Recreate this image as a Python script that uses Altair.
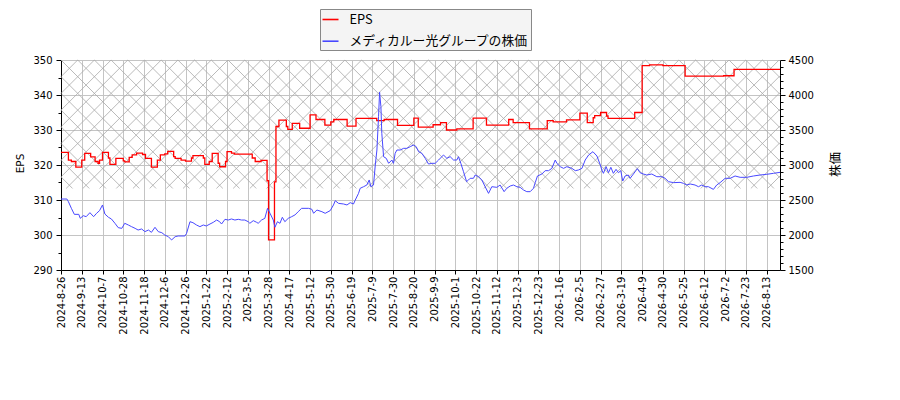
"""EPS vs. share price chart (step line for EPS, line for price, hatched band)."""

import altair as alt
import pandas as pd

# x axis: trading-day index, a label every 14 trading days
DATE_LABELS = [
    '2024-8-26', '2024-9-13', '2024-10-7', '2024-10-28', '2024-11-18', '2024-12-6',
    '2024-12-26', '2025-1-22', '2025-2-12', '2025-3-5', '2025-3-28', '2025-4-17',
    '2025-5-12', '2025-5-30', '2025-6-19', '2025-7-9', '2025-7-30', '2025-8-20',
    '2025-9-9', '2025-10-1', '2025-10-22', '2025-11-12', '2025-12-3', '2025-12-23',
    '2026-1-16', '2026-2-5', '2026-2-27', '2026-3-19', '2026-4-9', '2026-4-30',
    '2026-5-25', '2026-6-12', '2026-7-2', '2026-7-23', '2026-8-13',
]
LABEL_STEP = 14
X_MAX = 485

# EPS (step changes: index where a new value starts)
EPS_IDX = [0, 5, 7, 10, 14, 16, 20, 23, 25, 26, 28, 32, 33, 37, 42, 43, 46, 48, 51, 55,
           57, 61, 65, 67, 70, 72, 76, 77, 81, 84, 88, 89, 96, 97, 100, 102, 106, 107, 111, 112,
           115, 117, 129, 131, 135, 139, 140, 144, 145, 147, 152, 153, 156, 161, 168, 172, 178, 182, 184, 193,
           199, 213, 218, 227, 238, 241, 251, 256, 260, 267, 278, 287, 302, 305, 316, 328, 332, 341, 350, 355,
           359, 360, 364, 368, 369, 387, 392, 397, 406, 421, 447, 454, 485]
EPS_VAL = [323.6, 321.4, 321.0, 319.4, 321.4, 323.3, 322.3, 321.0, 320.5, 321.4, 323.6, 322.0, 320.2, 321.9, 321.2, 320.9, 322.2, 322.9, 323.4, 323.0,
           321.9, 319.4, 321.4, 322.9, 323.2, 323.9, 322.4, 321.9, 321.4, 321.1, 322.0, 322.7, 322.0, 320.2, 321.0, 323.3, 320.5, 319.5, 321.0, 323.8,
           323.4, 323.1, 322.0, 321.0, 321.3, 315.5, 298.6, 315.2, 331.0, 332.8, 331.0, 330.2, 331.9, 330.5, 334.3, 333.0, 331.4, 332.3, 333.0, 331.1,
           333.3, 332.7, 333.0, 331.3, 333.4, 330.8, 331.5, 332.1, 330.0, 330.3, 333.4, 331.4, 333.0, 332.1, 330.3, 332.7, 332.3, 332.9, 334.8, 332.1,
           333.5, 334.1, 335.0, 334.0, 333.3, 335.0, 348.4, 348.6, 348.4, 345.4, 345.5, 347.3, 347.3]

# share price
PRICE_IDX = [0, 4, 5, 7, 9, 12, 13, 15, 17, 19.5, 22, 24, 26, 28, 29.6, 32, 34, 36.4, 38.6, 41,
             43, 45.4, 47.6, 50, 52, 54.4, 56.6, 59, 61, 63.4, 65.6, 68, 70, 72.4, 74.6, 77, 79, 83.6, 84.7, 87,
             89, 91.4, 93.7, 96, 98, 100.5, 102.7, 105, 107, 108.3, 110.6, 112.8, 115, 117.3, 119.6, 121.8, 124, 126.3, 127.4, 129.7,
             132, 133, 135.3, 137.5, 139.3, 141, 143.2, 144.3, 146, 147.7, 149.3, 151, 153.3, 155.6, 157.8, 160, 162.3, 167, 169.2, 170.4,
             172.6, 176, 178.2, 181.6, 183.8, 185, 187.2, 190.6, 192.9, 195.1, 197.3, 198.5, 200.7, 201.8, 204.1, 206.3, 207.9, 209, 210.8, 212,
             213.1, 214.2, 214.9, 215.8, 216.4, 217.6, 219.4, 221, 223.2, 224.3, 225.4, 226.6, 228.8, 231.1, 233.3, 235.6, 237.8, 239.6, 241.2, 243.4,
             245.7, 247.9, 250.2, 252.4, 254.7, 258, 260.3, 262.5, 264.8, 267, 268.1, 269.7, 271.5, 273.6, 274.9, 276, 278.2, 279.4, 281.6, 283.9,
             286.1, 288.4, 290.6, 294, 296.2, 298.9, 300.7, 303, 305.2, 307.5, 309.7, 312, 314.2, 316.5, 318.7, 319.9, 321.4, 324.4, 326.6, 328.9,
             331.1, 333.4, 334.5, 336.8, 339, 341.2, 344.6, 346.9, 349.1, 351.4, 353.6, 355.9, 358.8, 361.5, 363.8, 364.8, 365.9, 367.7, 369.3, 370.9,
             372.6, 374.4, 376, 377.6, 378.9, 380.5, 382.7, 383.9, 386.1, 388.8, 390.6, 392.9, 395.1, 398.5, 401.9, 405.3, 407.5, 409.8, 413.2, 417.6,
             419.9, 422.1, 424.4, 427.7, 430, 432.2, 434.5, 436.7, 440.1, 442.3, 444.6, 448, 451.4, 454.7, 458.1, 462.6, 467.1, 471.6, 476.1, 480.6,
             485]
PRICE_VAL = [2514, 2514, 2476, 2381, 2295, 2295, 2238, 2276, 2262, 2319, 2262, 2310, 2348, 2429, 2300, 2253, 2229, 2167, 2105, 2095,
             2167, 2143, 2119, 2095, 2071, 2086, 2048, 2071, 2038, 2110, 2048, 2033, 2000, 1976, 1929, 1976, 1986, 1986, 2024, 2190,
             2176, 2143, 2119, 2143, 2129, 2157, 2181, 2214, 2190, 2157, 2224, 2214, 2229, 2214, 2224, 2214, 2214, 2190, 2167, 2205,
             2181, 2167, 2214, 2238, 2381, 2310, 2214, 2110, 2190, 2167, 2253, 2190, 2238, 2262, 2286, 2333, 2381, 2381, 2367, 2310,
             2357, 2333, 2310, 2348, 2429, 2490, 2452, 2443, 2429, 2462, 2443, 2500, 2595, 2667, 2690, 2714, 2786, 2690, 2714, 3000,
             3214, 3690, 4040, 3833, 3452, 3119, 3095, 3024, 3071, 3024, 3167, 3214, 3214, 3238, 3238, 3262, 3286, 3262, 3190, 3167,
             3095, 3014, 3024, 3024, 3071, 3143, 3095, 3119, 3071, 3071, 3119, 3024, 2905, 2762, 2786, 2810, 2810, 2857, 2833, 2786,
             2690, 2595, 2690, 2681, 2714, 2619, 2667, 2700, 2714, 2690, 2681, 2643, 2619, 2619, 2667, 2748, 2843, 2871, 2919, 2919,
             2952, 3071, 3024, 2976, 2952, 2976, 2952, 2919, 2929, 2952, 3071, 3143, 3190, 3129, 3000, 2929, 2881, 2976, 2890, 2967,
             2881, 2938, 2890, 2919, 2771, 2843, 2857, 2810, 2871, 2948, 2890, 2871, 2857, 2871, 2833, 2833, 2810, 2762, 2748, 2752,
             2738, 2714, 2729, 2714, 2690, 2714, 2690, 2690, 2652, 2714, 2748, 2810, 2810, 2843, 2824, 2824, 2843, 2857, 2867, 2881,
             2895]

SERIES = ['EPS', 'メディカルー光グループの株価']
COLORS = ['#ff0000', '#4848ff']

EPS_DOMAIN = [290, 350]
PRICE_DOMAIN = [1500, 4500]
BAND = [313.3, 350]  # hatched band on the EPS scale

W, H = 719, 210

eps_df = pd.DataFrame({'idx': EPS_IDX, 'eps': EPS_VAL, 'series': SERIES[0]})
price_df = pd.DataFrame({'idx': PRICE_IDX, 'price': PRICE_VAL, 'series': SERIES[1]})

# Build the 'x' hatch of the band as two families of 45-degree rules
px_x = W / X_MAX
px_y = H / (EPS_DOMAIN[1] - EPS_DOMAIN[0])
band_h = (BAND[1] - BAND[0]) * px_y
spacing = 16.7
hatch_rows = []
for k in range(-int(band_h // spacing) - 2, int((W + band_h) // spacing) + 2):
    c = k * spacing
    # X - Y = c
    a0, a1 = max(0, c), min(W, c + band_h)
    if a1 > a0:
        hatch_rows.append((a0, a0 - c, a1, a1 - c))
    # X + Y = c
    b0, b1 = max(0, c - band_h), min(W, c)
    if b1 > b0:
        hatch_rows.append((b0, c - b0, b1, c - b1))
hatch_df = pd.DataFrame(
    [{'x1': x0 / px_x, 'y1': BAND[1] - y0 / px_y, 'x2': x1 / px_x, 'y2': BAND[1] - y1 / px_y}
     for x0, y0, x1, y1 in hatch_rows]
)

label_array = '[' + ','.join("'" + d + "'" for d in DATE_LABELS) + ']'
x_scale = alt.Scale(domain=[0, X_MAX], nice=False, zero=False)
x_axis = alt.Axis(
    title=None,
    values=list(range(0, X_MAX, LABEL_STEP)),
    labelExpr=label_array + '[round(datum.value / ' + str(LABEL_STEP) + ')]',
    labelAngle=270,
    labelPadding=2,
    tickSize=4,
)

eps_scale = alt.Scale(domain=EPS_DOMAIN, nice=False, zero=False)
eps_axis = alt.Axis(
    title='EPS',
    values=list(range(290, 351, 5)),
    labelExpr="datum.value % 10 == 0 ? datum.label : ''",
    gridOpacity={'condition': {'test': 'datum.value % 10 != 0', 'value': 0}, 'value': 1},
    tickSize={'condition': {'test': 'datum.value % 10 != 0', 'value': 3}, 'value': 5},
    labelPadding=4,
    titleX=-41,
    titleY=103,
    titleAngle=270,
    titleAlign='center',
    titleBaseline='middle',
    titleFont='DejaVu Sans',
    titleFontSize=10.5,
    titleFontWeight='normal',
)

price_scale = alt.Scale(domain=PRICE_DOMAIN, nice=False, zero=False)
price_axis = alt.Axis(
    title='株価',
    orient='right',
    grid=False,
    format='d',
    values=list(range(1500, 4501, 100)),
    labelExpr="datum.value % 500 == 0 ? datum.label : ''",
    tickSize={'condition': {'test': 'datum.value % 500 != 0', 'value': 3}, 'value': 5},
    labelPadding=3,
    titleX=55,
    titleY=104,
    titleAngle=270,
    titleAlign='center',
    titleBaseline='middle',
    titleFont='Noto Sans CJK JP',
    titleFontSize=12.5,
    titleFontWeight='normal',
)

color = alt.Color(
    'series:N',
    scale=alt.Scale(domain=SERIES, range=COLORS),
    legend=alt.Legend(
        title=None,
        orient='none',
        legendX=259,
        legendY=-51,
        symbolType='stroke',
        symbolSize=256,
        symbolStrokeWidth=1.6,
        labelFont='Noto Sans CJK JP',
        labelFontSize=12.8,
        labelLimit=400,
        labelOffset=10,
        padding=1.5,
        rowPadding=5.7,
        strokeColor='#888888',
        fillColor='#f4f4f4',
        cornerRadius=0,
    ),
)

hatch = alt.Chart(hatch_df).mark_rule(color='#a8a8a8', strokeWidth=0.8).encode(
    x=alt.X('x1:Q', scale=x_scale, axis=x_axis),
    x2='x2:Q',
    y=alt.Y('y1:Q', scale=eps_scale, axis=eps_axis),
    y2='y2:Q',
)

eps_line = alt.Chart(eps_df).mark_line(interpolate='step-after', strokeWidth=1.3).encode(
    x=alt.X('idx:Q', scale=x_scale, axis=x_axis),
    y=alt.Y('eps:Q', scale=eps_scale, axis=eps_axis),
    color=color,
)

price_line = alt.Chart(price_df).mark_line(strokeWidth=1).encode(
    x=alt.X('idx:Q', scale=x_scale, axis=x_axis),
    y=alt.Y('price:Q', scale=price_scale, axis=price_axis),
    color=color,
)

chart = alt.layer(alt.layer(hatch, eps_line), price_line).resolve_scale(
    y='independent'
).properties(
    width=W,
    height=H,
    autosize='none',
    padding={'left': 53, 'top': 52, 'right': 112, 'bottom': 122},
).configure_view(
    stroke=None
).configure_axis(
    labelFont='DejaVu Sans',
    labelFontSize=10,
    labelColor='#000000',
    tickColor='#000000',
    domainColor='#000000',
    gridColor='#c4c4c4',
    gridWidth=1,
)

chart.save("out.html", embed_options={"renderer": "svg", "actions": False})
